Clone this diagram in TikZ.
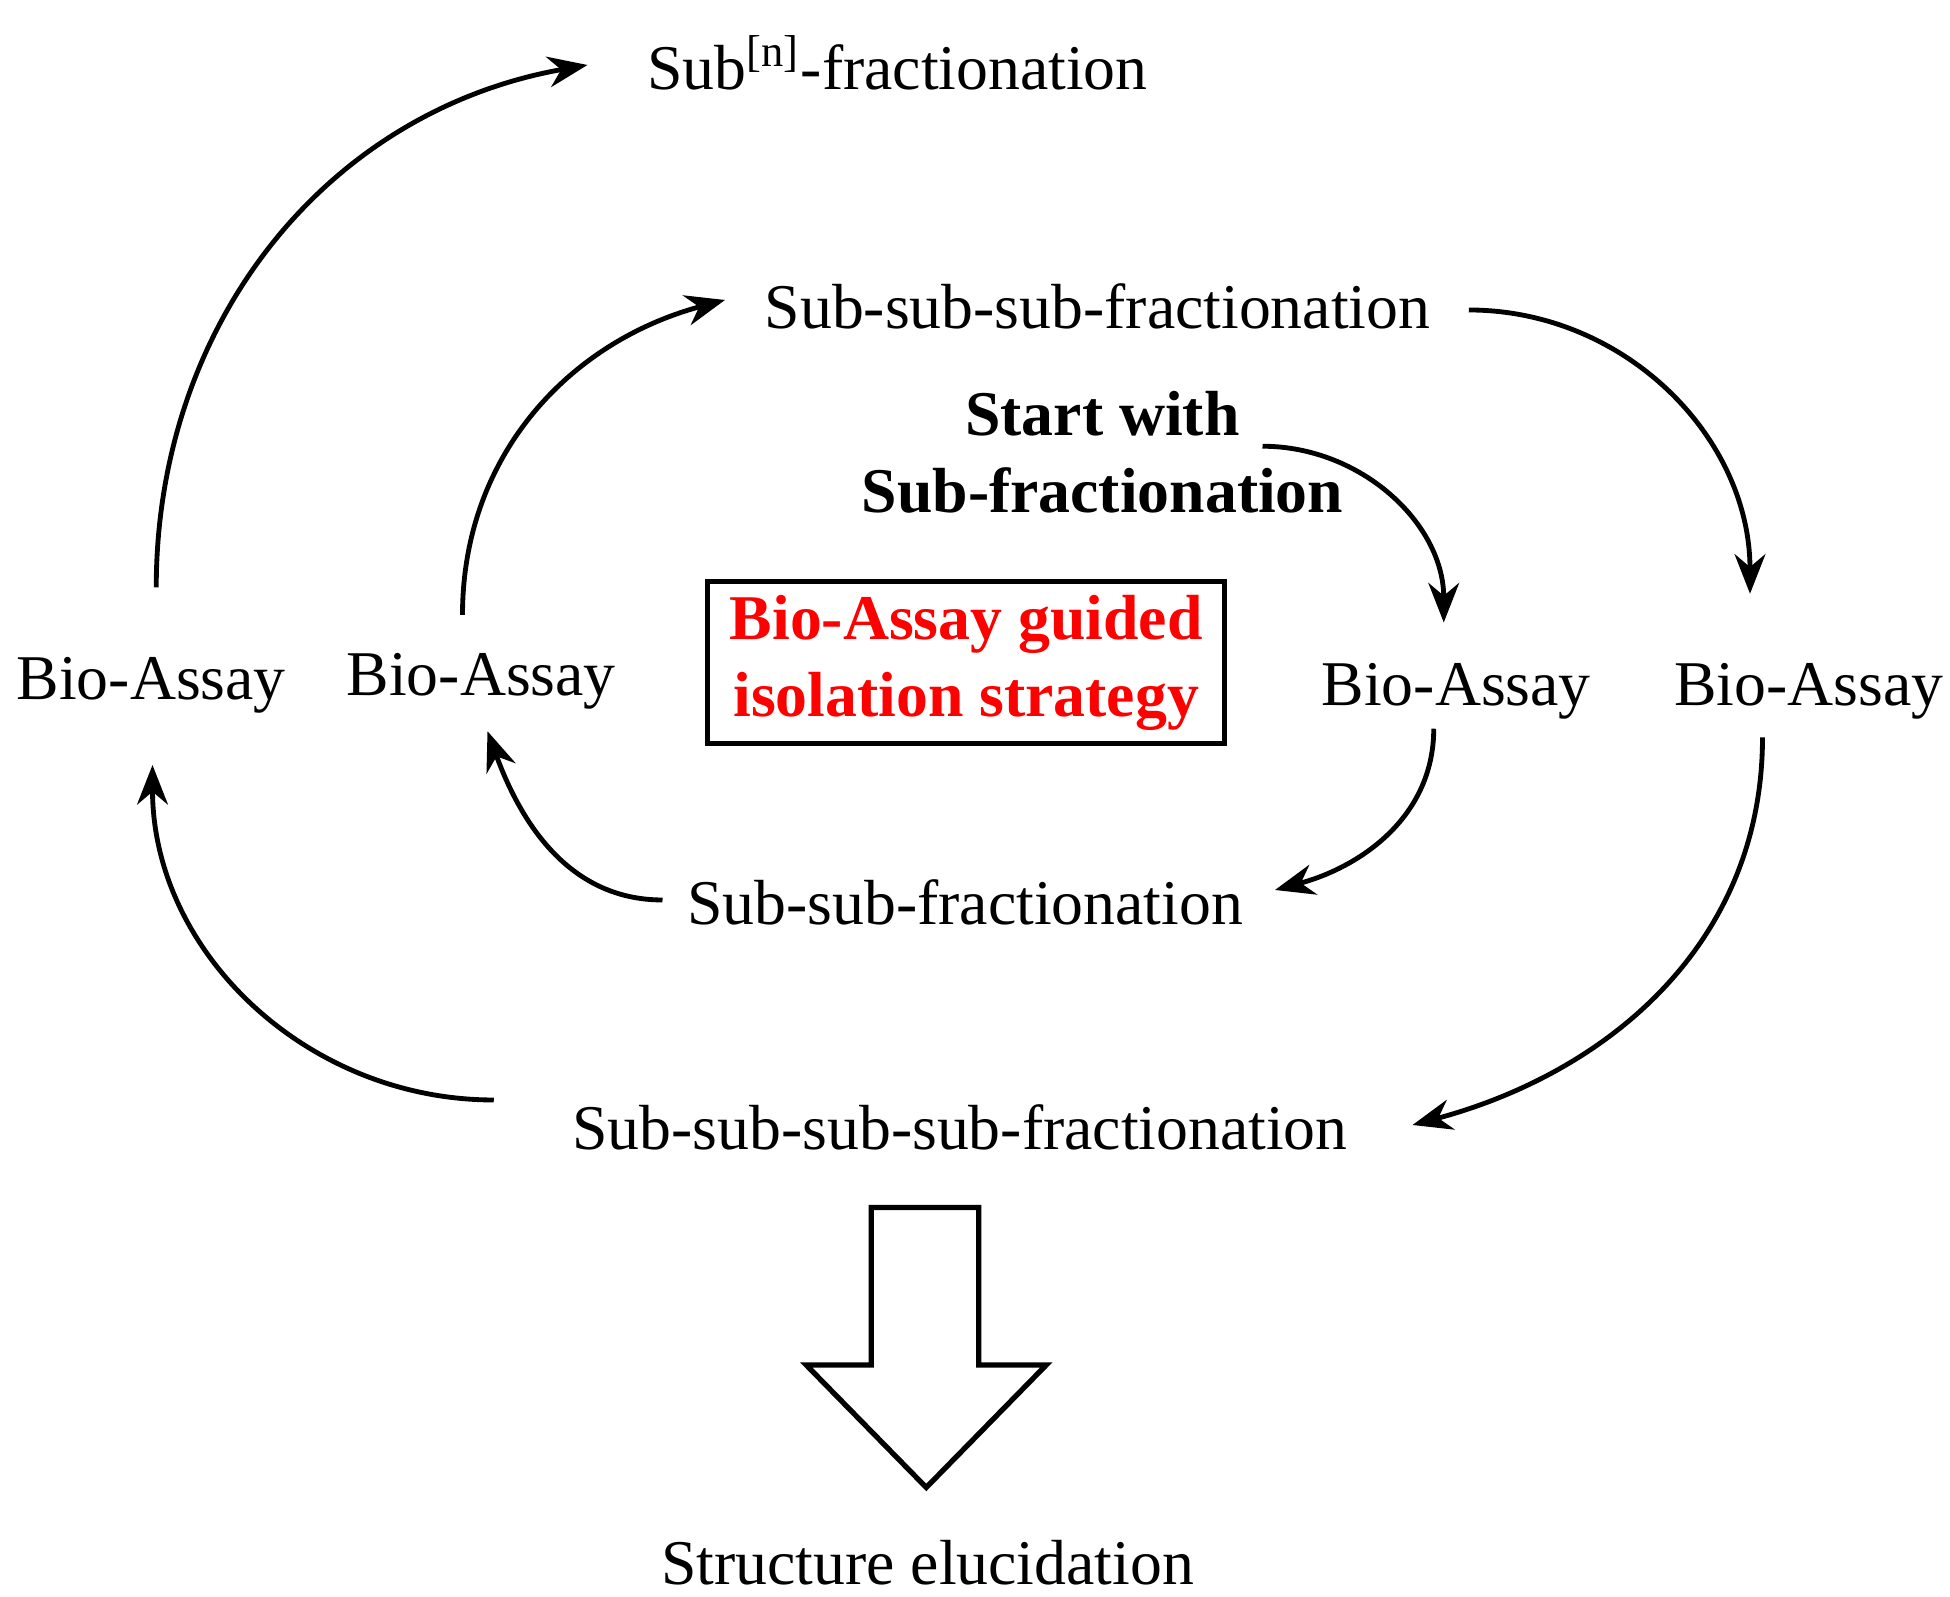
\documentclass[tikz,border=0pt]{standalone}
\usepackage{fontspec}
\setmainfont{Liberation Serif}
\usetikzlibrary{arrows.meta}
\begin{document}
\begin{tikzpicture}[x=0.01cm, y=-0.01cm,
			stage/.style={font=\fontsize{14.5}{17.5}\selectfont, inner sep=0.1em},
			line/.style={draw, line width=1.1pt, -{Stealth[length=9pt,width=7pt]}}
		]
		\useasboundingbox (0,0) rectangle (1560,1277);
		% Place nodes
		\node [stage] (subn) at (718,50) {Sub\textsuperscript{[n]}-fractionation};
		\node [stage] (sss) at (878,245) {Sub-sub-sub-fractionation};
		\node [stage, font=\fontsize{14.5}{17.5}\selectfont\bfseries, align=center] (start) at (882,362) {Start with\\Sub-fractionation};
		\node [draw, line width=1.2pt, align=center, inner xsep=0.5em, inner ysep=0.3em,
			font=\fontsize{14.5}{17.5}\selectfont\bfseries, text=red] (box) at (773,530) {Bio-Assay guided\\isolation strategy};
		\node [stage] (bioa) at (121,548) {Bio-Assay};
		\node [stage] (biob) at (385,545) {Bio-Assay};
		\node [stage] (bioc) at (1165,553) {Bio-Assay};
		\node [stage] (biod) at (1447,553) {Bio-Assay};
		\node [stage] (ss) at (772,722) {Sub-sub-fractionation};
		\node [stage] (ssss) at (768,902) {Sub-sub-sub-sub-fractionation};
		\node [stage] (struct) at (742,1250) {Structure elucidation};
		% Draw edges
		\path [line] ([shift={(4,-78)}]bioa.center) to[out=90, in=-170] ([shift={(-248,2)}]subn.center);
		\path [line] ([shift={(-15,-53)}]biob.center) to[out=90, in=-165] ([shift={(-298,-5)}]sss.center);
		\path [line] ([shift={(297,3)}]sss.center) to[out=0, in=90] ([shift={(-47,-78)}]biod.center);
		\path [line] ([shift={(128,-5)}]start.center) to[out=0, in=90] ([shift={(-10,-55)}]bioc.center);
		\path [line] ([shift={(-18,30)}]bioc.center) to[out=-90, in=15] ([shift={(248,-10)}]ss.center);
		\path [line] ([shift={(-242,-2)}]ss.center) to[out=180, in=-70] ([shift={(5,40)}]biob.center);
		\path [line] ([shift={(-37,37)}]biod.center) to[out=-90, in=15] ([shift={(362,-2)}]ssss.center);
		\path [line] ([shift={(-373,-22)}]ssss.center) to[out=180, in=-90] ([shift={(1,64)}]bioa.center);
		\draw [line width=1.2pt] (697,966) -- (783,966) -- (783,1092) -- (837,1092) -- (741,1190)
			-- (645,1092) -- (697,1092) -- cycle;
	\end{tikzpicture}
\end{document}
